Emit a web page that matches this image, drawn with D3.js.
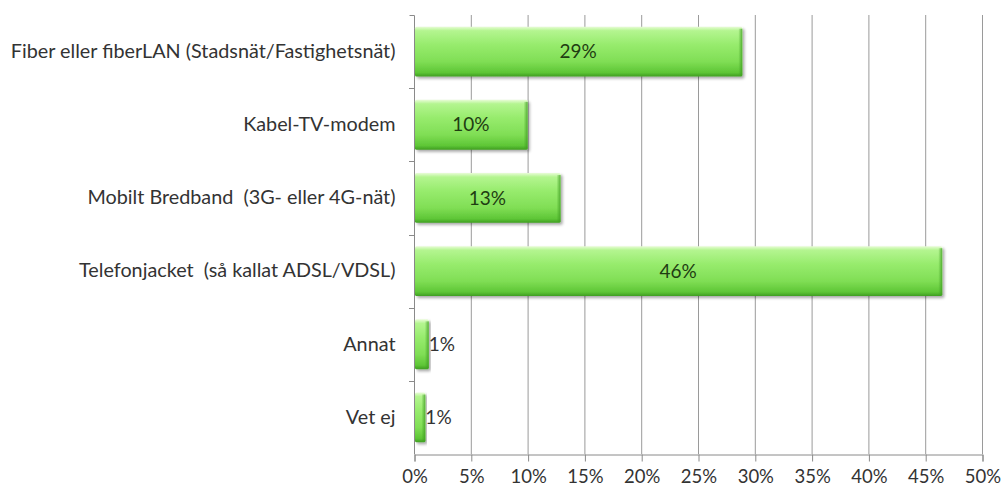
<!DOCTYPE html>
<html>
<head>
<meta charset="utf-8">
<script src="https://cdn.jsdelivr.net/npm/d3@7"></script>
<style>
  html, body { margin: 0; padding: 0; background: #ffffff; }
  svg { display: block; }
  text { font-family: Lato, "Open Sans", sans-serif; white-space: pre; }
</style>
</head>
<body>
<svg id="chart" width="1001" height="488"></svg>
<script>
const categories = [
  "Fiber eller fiberLAN (Stadsnät/Fastighetsnät)",
  "Kabel-TV-modem",
  "Mobilt Bredband  (3G- eller 4G-nät)",
  "Telefonjacket  (så kallat ADSL/VDSL)",
  "Annat",
  "Vet ej"
];
const values = [28.9, 10.0, 12.9, 46.5, 1.3, 1.0];
const valueLabels = ["29%", "10%", "13%", "46%", "1%", "1%"];
const tickValues = [0, 5, 10, 15, 20, 25, 30, 35, 40, 45, 50];
const tickLabels = ["0%", "5%", "10%", "15%", "20%", "25%", "30%", "35%", "40%", "45%", "50%"];

(function () {
const svg = d3.select("#chart");
const mLeft = 414, mRight = 982, mTop = 15, mBottom = 454;

const x = d3.scaleLinear().domain([0, 50]).range([mLeft, mRight]);
const y = d3.scaleBand().domain(categories).range([mTop, mBottom]).paddingInner(0.32).paddingOuter(0.16);

const defs = svg.append("defs");
const grad = defs.append("linearGradient").attr("id", "barGrad").attr("x1", 0).attr("y1", 0).attr("x2", 0).attr("y2", 1);
[[0, "#e8fcd6"], [0.08, "#b4f590"], [0.35, "#98ec6e"], [0.7, "#80de55"], [0.92, "#5ec636"], [1, "#3f9e22"]]
  .forEach(([o, c]) => grad.append("stop").attr("offset", o).attr("stop-color", c));
const gradR = defs.append("linearGradient").attr("id", "edgeGrad").attr("x1", 0).attr("y1", 0).attr("x2", 1).attr("y2", 0);
gradR.append("stop").attr("offset", 0).attr("stop-color", "#3f9e22").attr("stop-opacity", 0);
gradR.append("stop").attr("offset", 1).attr("stop-color", "#3f9e22").attr("stop-opacity", 0.8);
const shadow = defs.append("filter").attr("id", "shadow").attr("x", "-5%").attr("y", "-20%").attr("width", "115%").attr("height", "150%");
shadow.append("feGaussianBlur").attr("in", "SourceAlpha").attr("stdDeviation", 1.5);
shadow.append("feOffset").attr("dx", 2).attr("dy", 2).attr("result", "ob");
shadow.append("feComponentTransfer").append("feFuncA").attr("type", "linear").attr("slope", 0.35);
const merge = shadow.append("feMerge");
merge.append("feMergeNode");
merge.append("feMergeNode").attr("in", "SourceGraphic");

// gridlines
svg.append("g").selectAll("line").data(tickValues.slice(1)).join("line")
  .attr("x1", d => x(d) + 0.5).attr("x2", d => x(d) + 0.5)
  .attr("y1", mTop).attr("y2", mBottom)
  .attr("stroke", "#9a9a9a").attr("stroke-width", 1);

// x axis
const xAxis = d3.axisBottom(x).tickValues(tickValues).tickFormat((d, i) => tickLabels[i]).tickSizeOuter(0).tickSize(7).tickPadding(8);
const gx = svg.append("g").attr("transform", `translate(0.5,${mBottom + 0.5})`).call(xAxis);
gx.select(".domain").attr("stroke", "#8a8a8a");
gx.selectAll(".tick line").attr("stroke", "#8a8a8a");
gx.selectAll(".tick text").attr("fill", "#333").attr("font-size", 18.5).attr("font-family", "Lato, sans-serif");

// y axis
const yAxis = d3.axisLeft(y).tickSize(0).tickPadding(19).tickSizeOuter(0);
const gy = svg.append("g").attr("transform", `translate(${mLeft + 0.5},0)`).call(yAxis);
gy.select(".domain").attr("stroke", "#8a8a8a").attr("d", `M-5,${mTop + 0.5}H0V${mBottom + 0.5}`);
gy.selectAll(".tick text").attr("fill", "#333").attr("font-size", 19.8).attr("font-family", "Lato, sans-serif");
// band boundary ticks
const boundaries = categories.map((c, i) => mTop + i * y.step()).concat([mBottom]);
svg.append("g").selectAll("line").data(boundaries.slice(1, -1)).join("line")
  .attr("x1", mLeft - 5).attr("x2", mLeft).attr("y1", d => Math.round(d) + 0.5).attr("y2", d => Math.round(d) + 0.5)
  .attr("stroke", "#8a8a8a");

// bars
const bars = svg.append("g").selectAll("g").data(categories).join("g");
bars.append("rect")
  .attr("x", x(0) + 1).attr("y", d => y(d))
  .attr("width", (d, i) => x(values[i]) - x(0) - 1)
  .attr("height", y.bandwidth())
  .attr("rx", 1.5)
  .attr("fill", "url(#barGrad)")
  .attr("filter", "url(#shadow)");
bars.append("rect")
  .attr("x", (d, i) => Math.max(x(0) + 1, x(values[i]) - 4)).attr("y", d => y(d) + 2)
  .attr("width", (d, i) => Math.min(4, x(values[i]) - x(0) - 1))
  .attr("height", y.bandwidth() - 3)
  .attr("fill", "url(#edgeGrad)");

// data labels
const inside = i => (x(values[i]) - x(0) > 45);
svg.append("g").selectAll("text").data(categories).join("text")
  .attr("x", (d, i) => inside(i) ? (x(0) + x(values[i])) / 2 : x(values[i]))
  .attr("y", d => y(d) + y.bandwidth() / 2)
  .attr("dy", "0.35em")
  .attr("text-anchor", (d, i) => inside(i) ? "middle" : "start")
  .attr("fill", (d, i) => inside(i) ? "#1f3d12" : "#333")
  .attr("font-size", 19)
  .text((d, i) => valueLabels[i]);
})();
</script>
</body>
</html>
